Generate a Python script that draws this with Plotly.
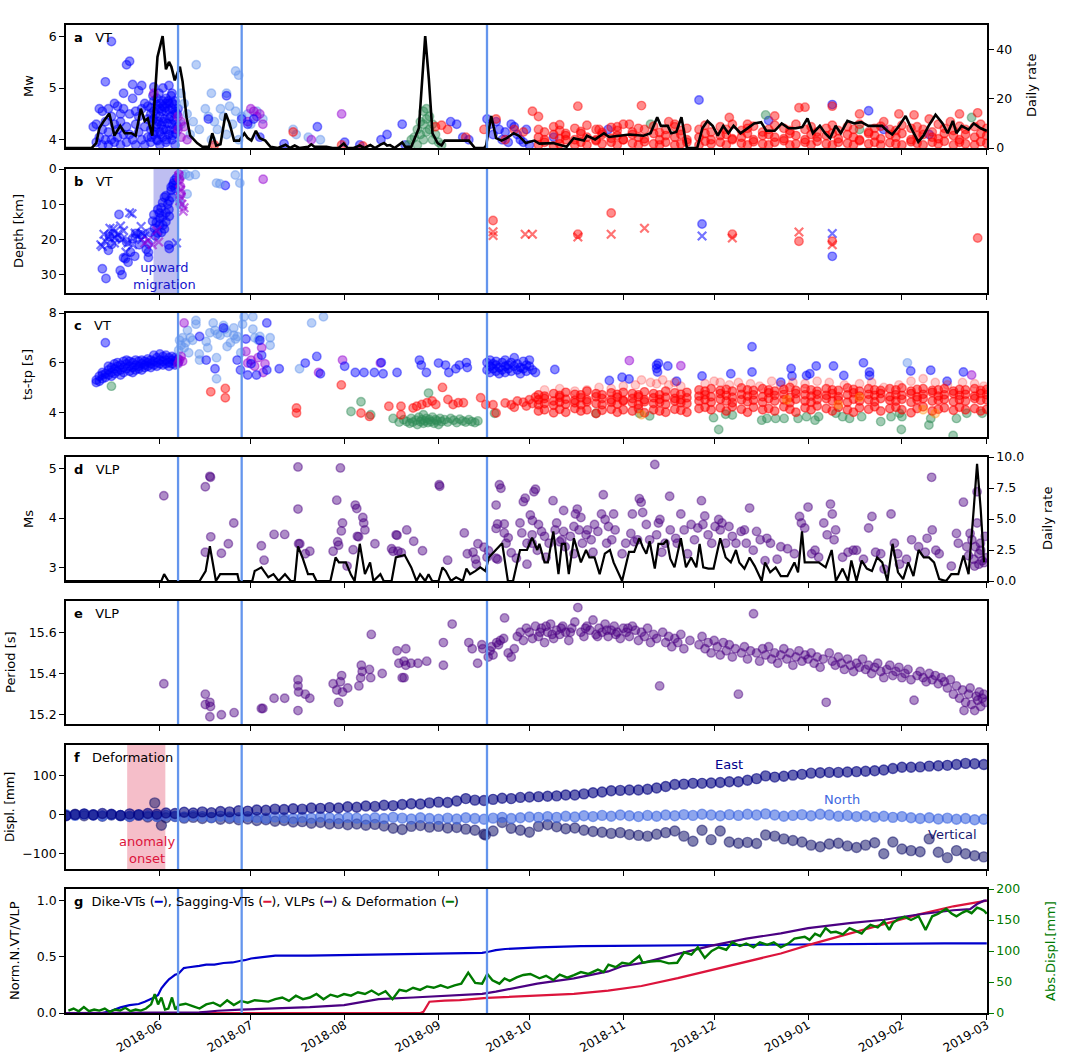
import sys
import pandas as pd
import plotly.graph_objects as go

BASE = pd.Timestamp("2018-05-01")
XMIN, XMAX = "2018-05-01", "2019-03-01 02:00"
EVENT_DAYS = [37, 58, 139]
MONTH_TICKS = ["2018-06-01", "2018-07-01", "2018-08-01", "2018-09-01", "2018-10-01", "2018-11-01",
               "2018-12-01", "2019-01-01", "2019-02-01", "2019-03-01"]
MONTH_LABELS = ["2018-06", "2018-07", "2018-08", "2018-09", "2018-10", "2018-11", "2018-12",
                "2019-01", "2019-02", "2019-03"]

# ---------------- panel a : VT magnitudes (days since 2018-05-01) ----------------
a_blue_day = [9,10,10,11,11,12,12,12,13,13,13,14,14,14,15,15,15,16,16,16,17,17,17,18,18,18,19,19,19,
              20,20,20,21,21,21,22,22,22,23,23,23,24,24,24,25,25,25,26,26,26,27,27,27,28,28,28,
              29,29,29,29,30,30,30,30,31,31,31,31,32,32,32,32,33,33,33,33,34,34,34,34,35,35,35,35,
              36,36,36,36,37,37]
a_blue_mw = [4.25,3.95,4.3,4.6,4.05,3.9,4.2,4.55,5.12,4.0,4.35,4.6,4.15,3.9,5.9,4.45,4.0,4.3,4.7,3.95,
             4.65,4.2,4.05,4.5,3.9,4.35,4.9,4.1,4.6,5.45,4.25,3.95,5.52,4.5,4.1,5.07,4.8,4.0,4.3,4.55,3.9,
             4.95,4.15,4.45,5.05,4.6,4.0,4.7,4.25,3.9,4.4,4.65,4.05,4.5,4.2,3.95,5.02,4.75,4.4,4.1,
             4.6,4.3,4.0,4.8,4.7,4.45,4.15,3.9,5.0,4.75,4.35,4.05,4.8,4.55,4.2,3.95,5.05,4.7,4.4,4.1,
             4.9,4.6,4.3,4.0,4.75,4.5,4.2,3.9,4.6,4.25]
a_blue_fill_day = [28,28.5,29,29.5,30,30.5,31,31.5,32,32.5,33,33.5,34,34.5,35,35.5,36,36.5,
                   28.2,29.2,30.2,31.2,32.2,33.2,34.2,35.2,36.2,28.7,29.7,30.7,31.7,32.7,33.7,34.7,35.7,36.7]
a_blue_fill_mw = [4.62,4.38,4.55,4.25,4.68,4.35,4.6,4.28,4.65,4.4,4.7,4.32,4.58,4.45,4.72,4.38,4.55,4.3,
                  4.05,4.15,3.98,4.1,4.2,4.0,4.18,4.08,4.12,4.85,4.5,4.9,4.55,4.62,4.75,4.85,4.68,4.5]
a_blue2_day = [47,53,58,60,62,64,72,83,92,97,104,106,111,112,127,129,131,133,139,140,141,142,143,144,145,146,
               147,148,149,150,151,152,153,161,179,209,232,253,265,270,285]
a_blue2_mw = [4.4,4.85,4.4,4.3,4.4,4.05,3.92,4.25,3.95,3.9,4.0,4.1,4.3,3.9,4.35,4.3,4.05,4.0,4.4,4.3,4.1,4.35,
              4.2,4.0,4.15,3.95,4.3,4.25,4.1,4.0,3.95,4.2,3.9,4.05,4.2,4.77,4.37,4.68,4.56,4.2,4.1]
a_lblue_day = [38,38,39,40,41,42,43,44,46,47,48,48,49,50,51,52,53,53,54,55,56,56,57,57,58,60,61,63,65,75,76,80,84]
a_lblue_mw = [4.9,4.3,4.7,4.5,4.1,4.35,5.45,4.2,4.6,4.45,4.9,4.0,4.35,4.2,4.6,4.45,4.9,4.1,4.65,4.3,5.33,4.55,
              5.25,4.0,4.45,4.5,4.3,4.55,4.4,4.2,4.1,4.05,4.0]
a_purple_day = [29,37,37,38,38,39,40,60,61,62,63,64,65,81,91]
a_purple_mw = [4.9,4.45,4.2,4.35,4.05,4.25,4.0,4.35,4.6,4.55,4.45,4.5,4.3,4.0,4.5]
a_green_day = [113,114,115,116,116,117,117,118,118,118,119,119,119,120,120,121,121,122,123,124,193,231,262,299]
a_green_mw = [3.9,4.0,4.05,4.2,3.9,4.35,4.1,4.55,4.3,4.0,4.6,4.4,4.15,4.45,4.2,4.3,4.0,4.1,3.95,3.9,4.3,4.48,4.2,4.43]
a_red_early_day = [49,75,91,98,122,124,126,132,138,142,145,148,151,154,156]
a_red_early_mw = [3.9,4.15,3.9,3.88,4.25,4.28,4.2,4.05,4.2,4.4,4.0,4.2,4.15,4.55,4.45]
sag_day = [156,158,161,163,165,168,170,172,175,177,180,182,184,187,189,191,194,196,198,201,203,205,
           209,211,213,216,218,220,223,225,227,230,232,234,237,239,241,244,246,248,251,253,255,258,260,262,
           265,267,269,272,274,276,279,281,283,286,288,290,293,295,297,300,302,304]
a_red_lo = [3.9,3.95,3.88,3.92,4.0,3.9,3.95,3.9,3.98,3.92,3.95,3.9,4.0,3.93,3.9,3.96,3.92,3.9,3.95,3.9,
            3.92,3.95,3.9,3.97,3.92,3.95,3.9,4.0,3.93,3.9,3.96,3.92,3.9,3.95,3.98,3.9,3.92,3.95,3.9,3.97,
            3.92,3.9,3.95,3.93,3.9,3.98,3.92,3.95,3.9,3.94,3.92,3.9,3.96,3.93,3.9,3.95,3.92,3.97,3.9,3.95,
            3.92,3.9,3.96,3.93]
a_red_mid = [4.05,4.0,4.1,4.02,4.08,4.0,4.12,4.05,4.0,4.1,4.03,4.08,4.0,4.1,4.05,4.02,4.12,4.0,4.08,4.05,
             4.1,4.0,4.05,4.12,4.0,4.08,4.1,4.02,4.05,4.12,4.0,4.08,4.1,4.05,4.02,4.12,4.08,4.0,4.1,4.05,
             4.08,4.12,4.02,4.1,4.05,4.0,4.12,4.08,4.02,4.1,4.05,4.12,4.0,4.08,4.1,4.05,4.02,4.12,4.08,4.0,
             4.1,4.05,4.12,4.08]
a_red_hi = [4.2,4.15,4.25,4.18,4.12,4.22,4.16,4.28,4.2,4.14,4.24,4.18,4.3,4.15,4.22,4.2,4.26,4.14,4.2,4.25,
            4.18,4.22,4.2,4.28,4.15,4.25,4.2,4.3,4.18,4.22,4.26,4.15,4.2,4.28,4.22,4.18,4.3,4.2,4.25,4.15,
            4.22,4.28,4.18,4.25,4.2,4.3,4.15,4.22,4.26,4.2,4.18,4.28,4.22,4.25,4.2,4.15,4.3,4.22,4.18,4.26,
            4.2,4.25,4.3,4.22]
a_red_top_day = [163,169,176,182,186,190,199,201,219,225,234,242,244,253,262,270,275,280,285,292,295,301]
a_red_top_mw = [4.29,4.65,4.2,4.25,4.3,4.66,4.35,4.3,4.43,4.3,4.46,4.62,4.63,4.65,4.5,4.35,4.5,4.48,4.4,4.35,4.5,4.52]
rate_vt = [(0,0),(8.5,0),(10,2),(11,8),(12.5,11),(14.3,14),(16,5),(17.9,9),(19.4,6),(21.6,6),(23,5),(24.7,16),
           (26,11),(27,12),(28.5,5),(30.2,37),(31.9,45.5),(33,32),(34,35),(34.8,33),(35.9,27.5),(37.6,33),
           (38.5,27),(39.8,12.5),(41,5),(43.3,2),(45,0.5),(47.2,0.5),(48.3,6),(49.6,1),(51,1.5),(52.7,14),
           (54,10),(55.5,3),(57.2,3),(58.9,6),(60,4),(61.2,3),(62.7,7),(64,4),(65.8,3),(67.5,0.5),(70,0),
           (72.5,1.3),(74,0),(75.5,1),(77,0),(80,0.5),(81,1.5),(82,0.5),(86,0.5),(88,0),(90,0),(91.7,1.8),
           (93,0),(95,0),(97,1),(98.5,0),(100.5,1.2),(102,0),(104,1.5),(105,2),(106,1),(107,1.2),(108.5,0),
           (111,2.3),(112,0.5),(114,0.5),(116.5,8),(117.8,31),(118.6,45.5),(119.8,28),(121,6),(122.7,2),
           (124,1),(125,3),(128,3),(131,3),(133,3),(135,0),(138,0),(138.7,1),(140.4,13),(142,4),(143.8,3),
           (145.5,4),(147.8,6),(149.5,5),(151.8,2),(154.6,3),(156.3,1.8),(160.8,2),(165.3,0.5),(167.6,4),
           (171,3),(172,5),(174.7,3.5),(177.6,6),(179.3,4.5),(182.7,5),(186.1,5.5),(190.7,5),(193,6),
           (195.2,12.5),(196.4,9),(198.7,9),(199.8,6),(201.5,6.5),(203.2,12.5),(205,0),(208.4,0),(210.1,8),
           (211.8,11),(213.5,9),(215.2,5),(217,9),(218.7,6),(220.4,9),(222.7,6),(225,8),(227.2,10),
           (229.5,10.5),(231.2,7),(234,7),(236.3,10),(238.6,8),(240.9,8),(243.1,8.5),(244.8,12),(246.6,6),
           (248.9,9),(250.6,6),(252.3,4),(254.1,9),(255.8,6),(258,11),(260.3,10),(262.6,10.5),(264.9,9),
           (267.1,9),(269.4,9),(271.1,7),(272.8,5.5),(275.1,9),(277.2,13),(279.1,8),(281.4,2.5),(283.1,5),
           (284.8,9),(287.1,13.5),(289.4,10),(291.1,6),(292.8,11),(294,6),(295.7,9),(298,7.5),(299.7,10),
           (302,8),(304,7)]

# ---------------- panel b : depths ----------------
b_blue_o_day = [12,13.2,14,15,17.9,18.5,19,19.6,20.5,21.3,22.7,24.2,27.2,27.2,27.2,26.5,14.4,15.5,17.7,20,
                22,23,24.8,27.8,17.5,28.6,29.2,29.8,30.3,30.9,31.4,32,32.5,33,33.6,34.1,34.7,34.7,35.3,35.5,
                35.8,34.1,33,31.9,30.9,30.3,33.9,34.1,29,31,32,33,34,35,36,36.5,29.5,31.5,32.5,52.6,210,253]
b_blue_o_dep = [28.3,31.1,23.1,21.4,28.8,30,25.2,25.5,26.5,23.6,24.8,21.5,21.2,23.6,25.1,22.8,19.2,18.3,19.5,20.7,
                19.7,18.3,18.7,18,12.9,14.8,16.8,15.2,11.5,12.5,11,13.5,8,7.6,10,9,6.1,5.1,4.6,4,
                3.2,13.4,12.4,9.5,15.8,18.2,21.6,22.6,13,14,16,15,11.5,8,5.5,2.5,19,18,17,4.7,15.6,24.8]
b_blue_x_day = [11.5,12.5,14.5,15.6,17,18,19,21,21.8,22.8,24.8,25.3,14,16.3,23.5,25,19.8,18.5,13,16,
                20.5,22,12,26,36.5,210,253]
b_blue_x_dep = [21.5,18.5,16.8,17,18.5,16.2,17.5,12.4,12.7,18.2,16.3,18.3,19.2,19.6,19.2,20,23.6,20,20.5,21,
                21,21.5,22,19,21,19,18.3]
b_lblue_day = [37.2,38.4,39.5,40.7,42.7,40,49.7,50.8,55.9,57.4,37.6]
b_lblue_dep = [8.5,1.7,1.5,2,1.6,7.1,4,4.2,1.7,4,10]
b_purple_x_day = [37.2,37.5,37.8,38,38.3,38.7,39,37.6,30.6,30,27,28.5,26]
b_purple_x_dep = [2,4,6,8,10,12,11,9,20.7,17.5,20.3,21.5,21]
b_purple_o_day = [37.3,37.5,65.1,37.8,38]
b_purple_o_dep = [1.5,3,2.9,5,7]
b_red_o_day = [141,169,180,220,242,253,301]
b_red_o_dep = [14.6,18.5,12.5,18.5,20.5,20.5,19.6]
b_red_x_day = [141,141,151.6,154,169,180,191,220,242,253]
b_red_x_dep = [17.8,18.9,18.5,18.5,19.3,18.5,16.8,19.6,17.9,21.5]

# ---------------- panel c : ts-tp ----------------
c_blue_day = [10,10,11,11,12,12,12,13,13,13,14,14,14,15,15,15,16,16,16,17,17,17,18,18,18,19,19,19,
              20,20,20,21,21,21,22,22,22,23,23,23,24,24,24,25,25,25,26,26,26,27,27,27,28,28,28,
              29,29,29,30,30,30,31,31,31,32,32,32,33,33,33,34,34,34,35,35,35,36,36,36,37,37]
c_blue_val = [5.2,5.3,5.45,5.25,5.5,5.35,5.6,6.8,5.55,5.4,5.7,5.5,5.85,5.6,5.8,5.45,5.75,5.95,5.55,
              5.65,5.85,6.0,5.7,5.9,5.5,5.8,6.05,5.6,5.75,5.95,6.1,5.85,5.65,6.05,5.8,6.0,5.6,5.9,6.1,5.7,
              5.85,6.05,5.75,5.95,5.7,6.1,5.9,6.05,5.8,6.0,5.85,6.15,5.95,6.1,5.8,6.05,5.9,6.3,6.0,6.2,5.85,
              5.95,6.1,6.35,6.05,5.9,6.25,6.1,5.95,6.3,6.0,6.2,5.85,6.1,5.95,6.25,6.05,6.2,5.9,6.0,6.15]
c_blue2_day = [56.5,57.6,59.4,61.1,64,64.6,66.3,60,62.9,66.3,44.1,46.3,49.2,52,70.4,79,82.8,84,92,95.5,
               98.4,101.8,104.1,104.7,109.3,116.7,117.3,119,123,125.3,126.4,128.7,129.9,132.2,132.5]
c_blue2_val = [6.1,5.7,6.95,5.95,6.9,6.3,7.6,5.5,5.5,5.7,7.05,6.1,5.75,7.4,5.75,5.98,6.25,5.55,5.85,5.6,
               5.6,5.6,6.0,5.55,5.6,6.1,5.9,5.6,5.98,5.9,5.6,5.75,5.9,6.0,5.8]
c_blue3_day = [139,139,140,140,140,141,141,142,142,142,143,143,144,144,145,145,145,146,146,147,147,148,148,
               149,149,150,150,151,151,152,152,153,153,154,155]
c_blue3_val = [5.7,6.0,5.85,5.6,6.1,5.75,5.95,5.65,5.9,6.05,5.8,5.55,6.0,5.7,5.85,6.1,5.6,5.9,5.75,6.0,
               5.65,5.85,6.2,5.7,5.95,5.8,5.55,6.05,5.75,5.9,5.65,5.85,6.1,5.7,5.6]
c_blue4_day = [161.4,179.4,183.6,185.9,195,195,195.3,195.6,198.7,201.6,210,219.5,226.5,226.5,236,239.4,239.7,
               244.5,245.6,247.7,253.4,256.8,263.3,265.3,265.3,278.9,285.5,290.9,296.3]
c_blue4_val = [5.72,5.28,5.41,5.34,5.9,5.76,5.62,5.97,5.86,5.25,5.46,5.55,6.64,5.62,5.21,5.76,5.46,5.48,5.55,
               5.86,5.86,5.48,5.99,5.62,5.48,5.66,5.69,5.25,5.62]
c_lblue_day = [37.2,37.5,38,38.5,39,39.5,40.1,40.5,41,41.8,42.9,42.9,44.1,46.3,46.8,48.6,49.2,49.7,49.7,50.9,
               52,53.2,53.2,54.3,55.4,55.4,56.6,57.7,58.3,58.8,61.7,61.7,62.3,63.5,64,67.4,67.4,77.1,81.1,85,
               47.5,52.5,56,50,44,277.8]
c_lblue_val = [6.5,6.9,6.7,7.0,6.6,6.8,7.3,6.4,7.0,6.9,7.55,7.7,6.1,6.85,6.6,7.6,7.3,6.2,5.35,7.1,
               7.5,7.2,6.65,6.8,7.4,7.1,7.05,6.4,7.55,7.85,7.85,7.35,7.0,6.9,7.05,6.7,7.0,5.75,7.6,7.85,
               7.2,7.35,6.95,7.15,6.35,5.99]
c_purple_day = [39,37.5,38,38.5,37,59.4,60,61.1,62.3,63.4,64.6,65.1,65.7,91.3,103.8,83.4,186,203,299]
c_purple_val = [7.6,6.1,6.25,6.05,5.95,6.45,5.98,6.1,5.85,6.2,6.6,5.6,5.95,6.1,5.98,5.6,6.08,5.87,5.5]
c_red_early_day = [47.8,52.6,52.6,76.1,76.1,90.9,97.4,100.2,106.6,110.6,110.6,114.6,115.8,117.5,119.2,120.9,
                   122.1,124.3,126.1,127.8,129.5,131.2,136.9,138.6,142,141,145,147,149,151,153,155,148,152,154]
c_red_early_val = [4.82,4.96,4.58,4.17,3.97,5.1,3.97,3.83,4.24,4.24,3.9,4.17,4.24,4.31,4.38,4.45,4.31,5.0,
                   4.51,4.31,4.38,4.38,4.58,4.31,3.97,4.3,4.37,4.3,4.45,4.4,4.5,4.6,4.2,4.25,4.35]
c_red_v1 = [4.05,4.1,3.98,4.12,4.0,4.15,4.05,4.1,3.95,4.08,4.12,4.0,4.1,4.05,4.15,3.98,4.1,4.05,4.0,4.12,
            4.08,4.0,4.15,4.2,4.1,4.18,4.05,4.22,4.12,4.0,4.2,4.1,4.15,4.05,4.22,4.12,4.0,4.18,4.1,4.25,
            4.15,4.05,4.2,4.1,4.0,4.18,4.12,4.22,4.05,4.15,4.2,4.1,3.98,4.15,4.22,4.05,4.12,4.18,4.08,4.2,
            4.1,4.15,4.05,4.12]
c_red_v2 = [4.3,4.35,4.28,4.4,4.32,4.38,4.3,4.42,4.35,4.3,4.4,4.33,4.45,4.38,4.3,4.42,4.35,4.4,4.32,4.45,
            4.38,4.35,4.45,4.5,4.4,4.52,4.45,4.38,4.5,4.42,4.48,4.4,4.55,4.45,4.5,4.38,4.52,4.45,4.4,4.5,
            4.55,4.45,4.48,4.4,4.52,4.45,4.5,4.42,4.55,4.48,4.45,4.52,4.4,4.5,4.55,4.45,4.48,4.52,4.42,4.5,
            4.45,4.55,4.48,4.5]
c_red_v3 = [4.5,4.55,4.45,4.6,4.52,4.48,4.58,4.5,4.62,4.55,4.5,4.6,4.48,4.55,4.62,4.5,4.58,4.52,4.6,4.55,
            4.5,4.58,4.65,4.7,4.62,4.75,4.68,4.6,4.72,4.65,4.7,4.62,4.78,4.68,4.72,4.6,4.75,4.7,4.65,4.72,
            4.68,4.75,4.62,4.7,4.78,4.65,4.72,4.68,4.75,4.62,4.7,4.68,4.75,4.62,4.72,4.8,4.65,4.7,4.75,4.68,
            4.72,4.65,4.75,4.7]
c_red_v4 = [4.7,4.65,4.75,4.68,4.8,4.72,4.7,4.85,4.75,4.7,4.78,4.72,4.8,4.75,4.7,4.82,4.75,4.7,4.85,4.78,
            4.72,4.8,4.9,4.85,4.95,4.88,4.92,4.85,4.98,4.9,4.88,4.95,4.9,4.85,4.92,5.0,4.88,4.95,4.9,4.85,
            4.95,4.9,4.88,4.98,4.92,4.85,4.95,4.9,4.88,4.95,4.9,4.98,4.85,4.92,4.95,4.88,4.9,4.95,4.85,4.92,
            4.9,4.95,4.88,4.92]
c_pink_day = [158,163,168,172,176,180,184,188,190,193,195,197,199,201,203,211,214,216,219,222,
              226,229,233,236,240,244,248,252,257,262,266,270,275,279,283,287,291,296,300,303]
c_pink_val = [4.9,4.95,4.85,4.9,5.0,4.95,5.05,5.1,5.3,5.2,5.15,5.3,5.1,5.2,5.05,5.15,5.25,5.2,5.1,5.2,
              5.15,5.05,5.25,5.1,5.2,5.15,5.25,5.2,5.1,5.15,5.2,5.0,5.1,5.25,5.35,5.2,5.1,5.2,5.15,5.05]
c_green_day = [15,94.1,97.4,100.6,119.7,141.5,108,110,111.5,112.5,113.5,114,114.5,115.5,116,116.5,117,117.5,
               118,118,118.5,119,119.5,120,120.5,121,121.5,122,122.5,123,123.5,124,125,126,127,128,129,130,
               131,132,133,134,135,136,175,189.3,192.7,213.8,215.5,217.8,220,229.7,231.4,234.3,237.1,241.7,
               244.5,247.3,248.5,254.2,256.4,258.7,262.7,269,272.4,275.2,275.8,276,284.9,285.5,292.9,294,
               297.4,302.5]
c_green_val = [5.05,4.03,4.42,3.9,4.77,3.96,3.75,3.6,3.7,3.62,3.55,3.75,3.6,3.68,3.5,3.8,3.62,3.7,3.55,3.9,
               3.65,3.75,3.58,3.7,3.62,3.8,3.55,3.7,3.65,3.5,3.75,3.62,3.7,3.6,3.75,3.68,3.58,3.72,3.65,3.6,
               3.7,3.62,3.58,3.65,3.96,3.96,3.85,3.78,3.3,3.92,3.89,3.68,3.75,3.75,3.75,3.75,3.82,3.68,3.82,
               3.96,3.82,3.75,3.82,3.62,3.82,3.96,3.3,3.82,3.48,3.75,3.06,3.75,3.96,3.96]
c_orange_day = [190, 238, 255, 283, 287, 262]
c_orange_val = [3.9, 4.5, 4.3, 4.1, 3.95, 4.6]

# ---------------- panel d : VLP Ms and daily rate ----------------
vlp_ms = [(32.3,4.45),(46,3.31),(46,4.63),(47.5,4.84),(47.7,4.82),(47.8,3.62),(51.3,3.29),(53.6,3.48),
          (55.4,3.9),(64.5,3.44),(65.4,3.15),(68.7,3.67),(72.2,3.67),(76.6,5.03),(76.6,4.18),(76.8,3.48),
          (77.2,3.48),(79,3.28),(80.5,3.33),(88.2,3.33),(89.4,4.36),(89.7,3.52),(90,3.45),(90.6,5.01),
          (90.9,3.74),(91.3,3.9),(92.8,3.03),(94.8,3.36),(95.5,4.26),(96,4.19),(96.2,3.63),(96.6,3.62),
          (98,4.01),(98.3,3.9),(98.7,3.76),(102,3.48),(107.5,3.38),(108,3.33),(109,3.66),(109.3,3.65),
          (109.6,3.33),(110.7,3.3),(112.5,3.76),(114.8,3.53),(117.7,3.34),(123.2,4.67),(123.4,4.64),
          (126,3.15),(131.5,3.7),(132.5,3.28),(134.4,3.31),(135.2,3.17),(135.5,3.07),(136,3.48),(138,3.41),
          (139.5,3.34),(139,3.21),(142,3.19),(142,4.26),(142.5,3.17),(143.1,4.67),(143.6,4.6),(142,3.79),
          (142.5,3.88),(144.7,3.88),(144.7,3.7),(145.3,3.49),(148.7,3.19),(149.9,3.9),(151,4.33),(151.6,4.4),
          (152.2,3.49),(152.2,3.07),(153.3,4.06),(153.9,3.66),(154.5,4.53),(155,4.58),(153.9,3.49),(155.6,3.35),
          (146,3.6),(147,3.3),(150.5,3.7),(154,3.95),
          (156,3.87),(157,3.73),(158,3.63),(158.5,3.21),(159.5,3.49),(160.8,4.35),(161.5,3.76),(162,3.9),
          (163,3.52),(163.7,3.56),(164.3,4.15),(164.3,3.73),(164.8,3.42),(166.5,3.63),(167.7,3.83),(167.7,3.28),
          (168.2,4.08),(168.8,4.18),(169.4,3.76),(170,4.01),(170.5,3.49),(171.7,3.66),(172.2,3.76),(173.4,3.56),
          (174,3.31),(174.5,3.87),(175.6,3.73),(177.4,4.47),(176.8,4.08),(178,3.97),(178.5,3.49),(179.1,3.83),
          (180.2,3.56),(180.8,4.08),(181.3,3.76),(183.6,3.28),(184.8,3.49),(186.5,3.69),(187,4.08),(187.6,3.52),
          (188.7,3.56),(189.3,4.39),(189.9,4.32),(190.4,4.11),(191.6,3.87),(192.7,3.56),(194.4,5.08),(195,3.66),
          (195.6,3.9),(196.1,3.97),(196.7,3.31),(197.8,3.49),(199.3,4.44),(199.5,3.76),(201.3,3.59),(201.8,3.49),
          (203,4.08),(204.1,3.76),(205.2,3.28),(206.4,3.87),(207.5,3.56),(208.6,3.8),(209.8,4.35),(210.3,3.87),
          (210.9,4.04),(212,3.66),(213.2,3.49),(214.3,3.83),(215.5,3.97),(216,3.76),(216.6,3.9),(217.8,3.49),
          (218.9,3.83),(220,3.63),(221.2,3.49),(222.9,3.73),(224,3.76),(224.6,3.49),(225.7,4.2),(226.9,3.35),
          (228,3.73),(229.2,3.56),(230.8,3.14),(231.4,3.59),(232.6,3.49),(234.8,3.17),(236,3.42),(238.2,3.38),
          (240.5,3.28),(242.2,4.03),(242.8,3.9),(243.9,3.8),(245,4.22),(246.2,3.28),(247.3,3.35),(248.5,3.21),
          (250.2,3.9),(251.3,3.66),(252.4,4.28),(253,4.08),(253.6,3.56),(254.1,3.76),(256.4,3.21),(258.2,3.31),
          (259.9,3.35),(261,3.35),(263.3,3.17),(265,3.8),(266.1,4.03),(267.3,3.31),(269,3.28),(270.1,2.97),
          (272.4,4.08),(273.5,3.49),(274.6,3.28),(275.2,3.07),(277.5,3.17),(279.2,3.56),(281.5,3.42),(283.7,3.31),
          (284.3,3.59),(285.8,4.82),(286,3.76),(287.2,3.35),(288.3,3.28),(292.3,3.03),(294,3.69),(294.6,3.49),
          (296.3,4.32),(297.4,3.42),(298,3.24),(298.5,3.69),(299.1,3.56),(299.7,3.17),(300.2,3.42),(300.8,4.53),
          (300.8,3.9),(301.4,3.28),(301.9,3.49),(302.5,3.14),(303.1,3.1),(300,3.03),(301.4,3.07),(302,3.35),
          (303.5,3.63),(303.8,3.2)]
rate_vlp = [(0,0),(31.5,0),(32.4,0.55),(33.8,0),(44.1,0),(46.1,0.8),(47.5,2.8),(49.5,0),(50.9,0.55),(56.6,0.55),
            (57.1,0),(61.5,0),(62.3,0.8),(64.5,1.1),(66.8,0.3),(68.5,0.55),(70.2,0),(72.3,0.55),(74.2,0),(75.5,0),
            (76.6,2.8),(78.2,1.8),(79.9,0.55),(81.6,0.55),(82.7,0),(87.3,0),(89,1.9),(90.1,1.5),(92.4,1.5),
            (94.1,0.5),(95.3,0),(97,3.0),(98.7,0.55),(100.4,1.5),(101.5,0),(103.8,0.55),(104.9,0),(107.5,0),
            (108.9,1.9),(111.8,2.1),(114,1.1),(115.7,0),(116.9,0.55),(118.6,0),(119.7,0.55),(120.9,0),(123,0),
            (124.3,1.1),(125.4,0.8),(127.1,0),(128.8,0.3),(131,0),(132.2,1.0),(133.4,0.55),(135.1,0.8),
            (136.8,1.1),(138.5,0.8),(139.6,1.9),(141.9,2.5),(144,3.05),(145.9,0),(147.6,0),(149.9,2.5),
            (152.2,2.5),(153.9,3.5),(155.6,2.5),(156.3,3.0),(158,1.5),(159.1,1.5),(160.9,4.0),(162.6,0.55),
            (163.7,3.0),(164.8,3.0),(166,0.55),(167.7,3.45),(170,1.5),(171.7,2.5),(172.8,1.9),(174.5,1.9),
            (176.2,0.55),(177.9,2.2),(179.6,2.5),(180.8,1.5),(183.6,0),(185.9,2.35),(187.6,2.35),(189.3,3.45),
            (190.4,2.75),(191.6,2.2),(192.7,3.2),(194.4,1.0),(195.6,3.0),(197.3,3.0),(198.4,3.3),(199.5,1.8),
            (200.9,1.1),(203,3.45),(204.7,1.1),(206.4,1.9),(208.1,1.1),(209.2,3.0),(210.4,1.1),(212.1,1.0),
            (213.8,1.0),(216,3.45),(217.8,1.9),(219.5,1.5),(221.2,2.5),(222.3,1.5),(224,1.0),(225.7,1.9),
            (227.4,1.2),(229.7,0),(230.8,1.5),(232.5,0.7),(234.3,1.1),(236,0.4),(238.2,0.4),(240.5,1.5),
            (241.7,0.7),(243,4.0),(243.9,1.5),(246.2,1.5),(248.5,1.5),(250.8,1.1),(252.8,2.5),(254.2,0),
            (256.4,1.0),(258.2,0),(259.3,1.65),(261,0),(262.7,1.65),(264.4,1.0),(266.1,0.8),(267.8,1.9),
            (269.5,1.5),(271.2,0),(272.9,3.0),(274.7,0.7),(276.4,0.15),(278.1,1.5),(279.8,0.4),(281.5,2.5),
            (283.2,1.9),(284.9,1.9),(286.6,1.5),(288.3,0.15),(290.6,0),(292.3,0.55),(294.6,0.55),(296.3,2.05),
            (298,0.55),(299.7,5.8),(300.8,9.45),(302,5.8),(303.1,1.5)]

# ---------------- panel e : VLP period ----------------
vlp_period = [(32.3,15.35),(46,15.30),(46,15.25),(47.5,15.26),(47.7,15.24),(47.5,15.19),(51.3,15.20),(55.5,15.21),
              (64.5,15.23),(65,15.23),(68.7,15.28),(72.2,15.28),(76.6,15.37),(76.6,15.34),(76.8,15.31),(76.6,15.22),
              (79,15.30),(80.5,15.28),(88.2,15.35),(89.4,15.32),(90,15.26),(90.6,15.36),(91,15.39),(91.3,15.31),
              (93,15.33),(96.7,15.34),(97.3,15.38),(97.5,15.44),(97.8,15.41),(100.2,15.42),(100.6,15.38),(100.8,15.59),
              (104.4,15.40),(109.3,15.51),(109.9,15.45),(111.6,15.46),(112.2,15.52),(112.2,15.44),(111.6,15.38),
              (111,15.38),(113.9,15.45),(116.2,15.45),(119.1,15.46),(124.6,15.44),(124.6,15.55),(127.5,15.64),
              (133,15.55),(134.1,15.52),(135.9,15.45),(137.3,15.54),(137.6,15.52),(139.4,15.48),(140,15.51),
              (142.2,15.55),(142.8,15.54),(143.4,15.56),(144.5,15.57),(144.8,15.67),(141,15.49),(140.5,15.53),
              (146,15.5),(147,15.48),(148,15.52),(149,15.58),(150,15.6),(151,15.56),(152,15.62),(153,15.6),
              (154,15.57),(155,15.63),(156,15.58),(157,15.62),(158,15.55),(159,15.6),(160,15.64),(161,15.57),
              (162,15.61),(163,15.59),(164,15.63),(165,15.6),(166,15.56),(167,15.62),(168,15.65),(169,15.72),
              (170,15.6),(171,15.58),(172,15.63),(173,15.61),(174,15.66),(175,15.59),(176,15.62),(177,15.6),
              (178,15.64),(179,15.58),(180,15.61),(181,15.63),(182,15.6),(183,15.57),(184,15.62),(185,15.6),
              (186,15.58),(187,15.63),(188,15.61),(189,15.56),(190,15.6),(191,15.58),(192,15.62),(193,15.55),
              (194,15.59),(195,15.57),(196,15.34),(197,15.6),(198,15.55),(199,15.58),(200,15.53),(201,15.57),
              (202,15.55),(203,15.59),(204,15.52),(206,15.56),(209,15.54),(210,15.58),(211,15.52),(212,15.55),
              (213,15.5),(214,15.56),(215,15.53),(216,15.49),(217,15.55),(218,15.51),(219,15.54),(220,15.48),
              (221,15.52),(222,15.3),(223,15.5),(224,15.53),(225,15.47),(226,15.51),(227,15.69),(228,15.5),
              (229,15.46),(230,15.52),(231,15.49),(232,15.53),(233,15.47),(234,15.5),(235,15.45),(236,15.49),
              (237,15.52),(238,15.47),(239,15.5),(240,15.44),(241,15.48),(242,15.51),(243,15.46),(244,15.49),
              (245,15.47),(246,15.5),(247,15.45),(248,15.48),(249,15.43),(250,15.47),(251,15.26),(252,15.5),
              (253,15.46),(254,15.44),(255,15.48),(256,15.45),(257,15.42),(258,15.47),(259,15.44),(260,15.41),
              (261,15.45),(262,15.43),(263,15.47),(264,15.42),(265,15.44),(266,15.4),(267,15.43),(268,15.45),
              (269,15.41),(270,15.38),(271,15.42),(272,15.44),(273,15.39),(274,15.41),(275,15.43),(276,15.38),
              (277,15.4),(278,15.42),(279,15.37),(280,15.27),(281,15.39),(282,15.41),(283,15.38),(284,15.36),
              (285,15.4),(286,15.37),(287,15.39),(288,15.35),(289,15.38),(290,15.36),(291,15.33),(292,15.37),
              (293,15.3),(294,15.34),(295,15.28),(296,15.32),(297,15.26),(298,15.3),(299,15.25),(300,15.22),
              (300.5,15.29),(301,15.27),(301.5,15.31),(302,15.24),(302.5,15.28),(303,15.3),(303.5,15.26),
              (298.5,15.33),(296.5,15.22),(156.5,15.6),(158.5,15.63),(160.5,15.59),(163.5,15.62),(166.5,15.6),
              (171.5,15.62),(175.5,15.58),(178.5,15.61),(181.5,15.59),(185.5,15.62)]

# ---------------- panel f : deformation (mm) ----------------
f_day = [0,3,6,9,12,15,18,21,24,27,30,33,36,39,42,45,48,51,54,57,60,63,66,69,72,75,78,81,84,87,90,93,96,99,
         102,105,108,111,114,117,120,123,126,129,132,135,138,141,144,147,150,153,156,159,162,165,168,171,174,
         177,180,183,186,189,192,195,198,201,204,207,210,213,216,219,222,225,228,231,234,237,240,243,246,249,
         252,255,258,261,264,267,270,273,276,279,282,285,288,291,294,297,300,303]
f_east = [-3,0,2,-1,3,1,-2,2,0,3,1,4,3,6,4,7,5,8,7,10,9,12,11,14,13,15,14,17,16,18,17,20,19,22,21,24,23,26,28,27,
          30,32,31,35,41,37,36,39,42,41,44,45,46,47,48,50,50,53,56,58,61,62,63,63,65,68,72,77,78,80,
          80,81,82,84,84,88,92,99,96,98,101,103,106,107,108,108,109,110,111,112,114,118,121,121,122,124,125,126,
          128,131,130,128]
f_north = [0,-2,1,-1,-3,0,-2,-4,-1,-3,-5,-2,-4,-6,-3,-5,-7,-4,-6,-8,-5,-7,-9,-6,-8,-10,-7,-9,-6,-8,
           -10,-7,-9,-11,-8,-10,-7,-9,-11,-8,-10,-12,-9,-11,-8,-10,-12,-9,-7,-10,-8,-6,-7,-5,-7,-4,-6,-3,-5,-2,
           -4,-1,-3,-5,-2,-4,-1,-3,0,-2,1,-1,-3,0,-2,1,-1,2,-1,-4,-2,0,-3,1,-1,-4,-2,-5,-3,-6,
           -4,-7,-5,-8,-10,-8,-11,-9,-12,-10,-13,-12]
f_vert = [-2,1,-3,0,-4,-1,-3,-5,-2,-6,-4,-8,-5,-9,-7,-10,-8,-12,-10,-13,-11,-15,-13,-17,-15,-19,-18,-22,-20,-24,
          -23,-26,-24,-27,-25,-29,-35,-38,-30,-28,-32,-30,-34,-33,-37,-40,-50,-42,-20,-35,-40,-45,-30,-26,-31,-36,
          -34,-40,-43,-45,-48,-46,-51,-53,-55,-50,-46,-42,-55,-68,-40,-64,-42,-70,-73,-71,-74,-52,-55,-62,
          -66,-70,-78,-82,-75,-73,-80,-84,-78,-72,-100,-70,-88,-92,-95,-62,-96,-110,-92,-100,-105,-108]
f_vert_out_day = [29.3, 31.5, 138.5]
f_vert_out_val = [30, -27, -52]

# ---------------- panel g : normalised cumulative counts and displacement ----------------
g_dike_day = [0,12,15,18,21,24,26,28,29.3,30.4,31.5,32.7,34,35,36,37.1,38,38.9,40,41.8,44,46.3,49,52,55,57.7,
              59,61.1,63,64.5,67,69.1,80,100,120,137.4,139.5,141.9,145,148.8,156,170,190,210,230,250,270,290,304]
g_dike = [0,0,0.02,0.05,0.07,0.08,0.1,0.12,0.14,0.16,0.22,0.26,0.3,0.32,0.34,0.35,0.38,0.4,0.405,0.41,
          0.42,0.43,0.43,0.445,0.45,0.465,0.47,0.485,0.49,0.5,0.5,0.51,0.51,0.52,0.525,0.535,0.545,0.56,0.57,
          0.575,0.585,0.595,0.6,0.605,0.61,0.615,0.615,0.62,0.62]
g_sag_day = [0,117,118,119,120,125,130,139,150,156,167.7,179,190,202,213,225,236,247,258,270,282,293,304]
g_sag = [0,0,0.01,0.06,0.1,0.11,0.115,0.135,0.148,0.15,0.17,0.2,0.24,0.31,0.38,0.46,0.53,0.62,0.7,0.79,0.88,0.95,1.0]
g_vlp_day = [0,31,33,44,46.3,50,57.7,69.1,80.5,91.8,103.2,114.6,126,137.4,141.9,148,155.6,167.7,179,183.6,190.4,
             201.8,213.2,224.6,236,245,258.7,270.1,281.5,292.9,298.5,300.8,303.1,304]
g_vlp = [0,0,0.003,0.005,0.01,0.02,0.03,0.04,0.052,0.07,0.123,0.138,0.154,0.17,0.19,0.22,0.262,0.308,0.37,0.416,
         0.446,0.524,0.6,0.662,0.709,0.755,0.8,0.83,0.877,0.915,0.924,0.97,1.0,1.0]
g_def_day = [0.8,2.5,4.2,5.9,7.6,9.3,11,12.8,14.5,16.2,17.9,19.6,21.3,23,24.7,26.4,28.1,29.3,30.4,31.5,32.7,33.8,
             35,36.1,37.2,39.5,41.8,44.1,46.3,48.6,50.9,53.2,55.4,57.7,60,62.3,64.5,66.8,69.1,71.4,73.6,75.9,78.2,
             80.5,82.7,85,87.3,89.6,91.8,94.1,96.4,98.7,100.9,103.2,105.5,107.8,110.1,112.3,114.6,116.9,119.2,
             121.4,123.7,126,128.3,130.5,132.8,135.1,137.4,139.1,140.8,143.1,144.8,146.5,148.8,151,153.3,155.6,
             156.3,158.5,160.9,163,165.5,167.7,170,172.5,175.6,177.5,179.1,181.5,183.6,186,189.3,190.4,193,196.1,
             199,201.8,204.1,206.5,208.6,210.9,213.2,215.5,218,220,222.5,224.6,227,229.1,231.5,233.7,236,238.5,
             240.5,243.9,245.5,247.3,249,250.8,252.5,254.2,256.5,258.7,260.5,262.7,264,265.6,268,270.1,271.8,273,
             274.7,276.9,279,281.5,283.8,286,288,290.6,292.5,294,296,297.4,299,300.8,302,303.1,304]
g_def_mm = [3.9,7.2,2.8,9.5,2.8,5.6,3.9,7.2,1.7,5.6,3.9,8.4,2.8,5.6,3.9,7.2,13.9,30.6,13.9,25,5.6,7.2,25,5.6,
            12.8,15,11.1,7.2,13.9,16.7,11.1,20.6,12.8,19.5,16.7,20.6,19.5,18.4,22.3,25,19.5,27.9,22.3,25,30.6,
            22.3,29.5,26.2,30.6,27.9,33.4,30.6,36.2,29.5,35.1,22.3,37.3,35.1,40.7,37.3,42.9,40.7,44.6,40.7,44.6,
            47.3,65.2,48.5,47.3,62.9,52.9,47.3,55.7,51.8,57.4,61.3,62.9,58.5,
            56,60,53,62,57,61,66,63,70,66,78,74,81,79,92,81,83,84,80,81,98,94,106,89,100,106,102,114,108,112,
            106,114,110,114,106,112,120,123,118,128,124,137,130,131,127,137,133,128,136,142,138,148,134,145,151,
            155,150,156,134,156,160,168,160,156,162,165,161,170,168,165,160]

# ---------------- helpers ----------------
def D(days):
    return BASE + pd.to_timedelta(list(days), unit="D")

def rgba(rgb, a):
    return "rgba(%d,%d,%d,%.3f)" % (rgb[0], rgb[1], rgb[2], a)

BLUE = (0, 0, 255); LBLUE = (100, 149, 237); PURPLE = (148, 0, 211); RED = (255, 0, 0)
GREEN = (46, 139, 87); ORANGE = (255, 140, 0); VLPC = (75, 0, 130)
EASTC = (0, 0, 128); NORTHC = (65, 105, 225); VERTC = (25, 25, 112)

traces = []

def sc(days, vals, rgb, i, alpha=0.45, size=8.5, symbol="circle", ya=None):
    if len(days) != len(vals):
        print("length mismatch", len(days), len(vals), file=sys.stderr)
        n = min(len(days), len(vals)); days, vals = days[:n], vals[:n]
    xa = "x" if i == 1 else "x%d" % i
    yy = ya if ya else ("y" if i == 1 else "y%d" % i)
    if symbol == "x":
        mk = dict(symbol="x-thin", size=size, color=rgba(rgb, alpha),
                  line=dict(color=rgba(rgb, alpha + 0.1), width=2.2))
    else:
        mk = dict(symbol="circle", size=size, color=rgba(rgb, alpha),
                  line=dict(color=rgba(rgb, alpha), width=1.4))
    traces.append(go.Scatter(x=D(days), y=vals, mode="markers", marker=mk, xaxis=xa, yaxis=yy,
                             showlegend=False, hoverinfo="skip"))

def ln(days, vals, color, i, width=2.2, ya=None):
    xa = "x" if i == 1 else "x%d" % i
    yy = ya if ya else ("y" if i == 1 else "y%d" % i)
    traces.append(go.Scatter(x=D(days), y=vals, mode="lines", line=dict(color=color, width=width),
                             xaxis=xa, yaxis=yy, showlegend=False, hoverinfo="skip"))

def unzip(pairs):
    return [p[0] for p in pairs], [p[1] for p in pairs]

# panel a
sc(a_blue_day, a_blue_mw, BLUE, 1)
sc(a_blue_fill_day, a_blue_fill_mw, BLUE, 1)
sc(a_lblue_day, a_lblue_mw, LBLUE, 1)
sc(a_purple_day, a_purple_mw, PURPLE, 1)
sc(a_blue2_day, a_blue2_mw, BLUE, 1)
sc(a_green_day, a_green_mw, GREEN, 1)
sc(a_red_early_day, a_red_early_mw, RED, 1)
sc(sag_day, a_red_lo, RED, 1, alpha=0.5)
sc(sag_day, a_red_mid, RED, 1, alpha=0.5)
sc(sag_day, a_red_hi, RED, 1)
sc(a_red_top_day, a_red_top_mw, RED, 1)
rd, rv = unzip(rate_vt)
ln(rd, rv, "black", 1, width=2.6, ya="y8")

# panel b
sc(b_blue_x_day, b_blue_x_dep, BLUE, 2, symbol="x")
sc(b_blue_o_day, b_blue_o_dep, BLUE, 2)
sc(b_lblue_day, b_lblue_dep, LBLUE, 2)
sc(b_purple_x_day, b_purple_x_dep, PURPLE, 2, symbol="x")
sc(b_purple_o_day, b_purple_o_dep, PURPLE, 2)
sc(b_red_o_day, b_red_o_dep, RED, 2)
sc(b_red_x_day, b_red_x_dep, RED, 2, symbol="x")

# panel c
sc(c_blue_day, c_blue_val, BLUE, 3)
sc(c_lblue_day, c_lblue_val, LBLUE, 3)
sc(c_purple_day, c_purple_val, PURPLE, 3)
sc(c_blue2_day, c_blue2_val, BLUE, 3)
sc(c_blue3_day, c_blue3_val, BLUE, 3)
sc(c_blue4_day, c_blue4_val, BLUE, 3)
sc(c_green_day, c_green_val, GREEN, 3)
sc(c_pink_day, c_pink_val, RED, 3, alpha=0.2)
sc(c_red_early_day, c_red_early_val, RED, 3)
sc(sag_day, c_red_v1, RED, 3, alpha=0.5)
sc(sag_day, c_red_v2, RED, 3, alpha=0.5)
sc(sag_day, c_red_v3, RED, 3, alpha=0.5)
sc(sag_day, c_red_v4, RED, 3, alpha=0.5)
sc(c_orange_day, c_orange_val, ORANGE, 3, alpha=0.35)

# panel d
vd, vm = unzip(vlp_ms)
sc(vd, vm, VLPC, 4, alpha=0.45)
rd, rv = unzip(rate_vlp)
ln(rd, rv, "black", 4, width=2.2, ya="y9")

# panel e
pd_, pv = unzip(vlp_period)
sc(pd_, pv, VLPC, 5, alpha=0.45)

# panel f
sc(f_day, f_vert, VERTC, 6, alpha=0.55, size=10)
sc(f_vert_out_day, f_vert_out_val, VERTC, 6, alpha=0.55, size=10)
sc(f_day, f_north, NORTHC, 6, alpha=0.6, size=10)
sc(f_day, f_east, EASTC, 6, alpha=0.6, size=10)

# panel g
ln(g_dike_day, g_dike, "#0000CD", 7, width=2.2)
ln(g_sag_day, g_sag, "#DC143C", 7, width=2.2)
ln(g_vlp_day, g_vlp, "#4B0082", 7, width=2.2)
ln(g_def_day, g_def_mm, "#007A00", 7, width=2.4, ya="y10")

fig = go.Figure(traces)

# ---------------- layout ----------------
W, H = 1080, 1060
ML, MR, MT, MB = 66, 93, 25, 47
PW = W - ML - MR
PH = H - MT - MB
panel_px = [(25, 148), (169, 293), (313, 437), (457, 581), (601, 724), (745, 869), (889, 1013)]
doms = [[(H - MB - b) / PH, (H - MB - t) / PH] for t, b in panel_px]

AX = dict(showline=True, linecolor="black", linewidth=1.6, mirror=True, ticks="outside", ticklen=5,
          tickwidth=1.3, tickcolor="black", showgrid=False, zeroline=False, automargin=False,
          tickfont=dict(size=12.5, color="black"))

ycfg = [
    dict(range=[3.84, 6.22], tickvals=[4, 5, 6]),
    dict(range=[35.2, 0], tickvals=[0, 10, 20, 30]),
    dict(range=[3.0, 8.0], tickvals=[4, 6, 8]),
    dict(range=[2.73, 5.23], tickvals=[3, 4, 5]),
    dict(range=[15.155, 15.752], tickvals=[15.2, 15.4, 15.6], tickformat=".1f"),
    dict(range=[-139, 178], tickvals=[-100, 0, 100]),
    dict(range=[0, 1.104], tickvals=[0, 0.5, 1.0], tickformat=".1f"),
]

lay = dict(width=W, height=H, margin=dict(l=ML, r=MR, t=MT, b=MB, pad=0, autoexpand=False),
           plot_bgcolor="white", paper_bgcolor="white", showlegend=False,
           font=dict(family="DejaVu Sans", size=12, color="black"))
for i in range(1, 8):
    xk = "xaxis" if i == 1 else "xaxis%d" % i
    yk = "yaxis" if i == 1 else "yaxis%d" % i
    lay[xk] = dict(domain=[0, 1], anchor=("y" if i == 1 else "y%d" % i), type="date", range=[XMIN, XMAX],
                   tickmode="array", tickvals=MONTH_TICKS, ticktext=MONTH_LABELS, showticklabels=(i == 7),
                   tickangle=-30, **AX)
    lay[yk] = dict(domain=doms[i - 1], anchor=("x" if i == 1 else "x%d" % i), **AX, **ycfg[i - 1])
lay["xaxis7"]["ticklabelstandoff"] = -6
lay["xaxis7"]["tickfont"] = dict(size=12, color="black")

RAX = dict(showline=True, linecolor="black", linewidth=1.6, ticks="outside", ticklen=5, tickwidth=1.3,
           tickcolor="black", showgrid=False, zeroline=False, side="right", automargin=False)
lay["yaxis8"] = dict(overlaying="y", anchor="x", range=[0, 50], tickvals=[0, 20, 40],
                     tickfont=dict(size=12.5, color="black"), **RAX)
lay["yaxis9"] = dict(overlaying="y4", anchor="x4", range=[0, 10], tickvals=[0, 2.5, 5, 7.5, 10],
                     tickformat=".1f", tickfont=dict(size=12.5, color="black"), **RAX)
RAXG = dict(RAX); RAXG["tickcolor"] = "#007A00"
lay["yaxis10"] = dict(overlaying="y7", anchor="x7", range=[0, 200], tickvals=[0, 50, 100, 150, 200],
                      tickfont=dict(size=12.5, color="#007A00"), **RAXG)

# shapes: event lines and shaded intervals
shapes = []
for i in range(1, 8):
    xa = "x" if i == 1 else "x%d" % i
    ya = "y" if i == 1 else "y%d" % i
    for ed in EVENT_DAYS:
        t = D([ed])[0]
        shapes.append(dict(type="line", xref=xa, yref=ya + " domain", x0=t, x1=t, y0=0, y1=1,
                           line=dict(color="#6495ED", width=2.3), layer="above"))
shapes.append(dict(type="rect", xref="x2", yref="y2 domain", x0=D([28.9])[0], x1=D([37])[0], y0=0, y1=1,
                   fillcolor="rgba(40,40,210,0.30)", line=dict(width=0), layer="below"))
shapes.append(dict(type="rect", xref="x6", yref="y6 domain", x0=D([20.2])[0], x1=D([32.8])[0], y0=0, y1=1,
                   fillcolor="rgba(220,20,60,0.28)", line=dict(width=0), layer="below"))
lay["shapes"] = shapes

def px2paper(px):
    return (px - ML) / PW

ann = []
plabels = [("a", "VT"), ("b", "VT"), ("c", "VT"), ("d", "VLP"), ("e", "VLP"), ("f", "Deformation")]
for i, (l, t) in enumerate(plabels, start=1):
    xa = "x" if i == 1 else "x%d" % i
    ya = "y" if i == 1 else "y%d" % i
    ann.append(dict(xref=xa + " domain", yref=ya + " domain", x=0.006, y=1, xanchor="left", yanchor="top",
                    yshift=-3, showarrow=False, text="<b>%s</b>&nbsp;&nbsp;&nbsp;%s" % (l, t),
                    font=dict(size=13, color="black")))
leg = ("<b>g</b>&nbsp;&nbsp;Dike-VTs (<span style='color:#0000CD'>━</span>), "
       "Sagging-VTs (<span style='color:#DC143C'>━</span>), "
       "VLPs (<span style='color:#4B0082'>━</span>) & Deformation (<span style='color:#007A00'>━</span>)")
ann.append(dict(xref="x7 domain", yref="y7 domain", x=0.006, y=1, xanchor="left", yanchor="top", yshift=-3,
                showarrow=False, text=leg, font=dict(size=13, color="black")))

# y-axis titles
ytitles = [("Mw", 28, 86, "black", 13), ("Depth [km]", 18, 231, "black", 13), ("ts-tp [s]", 28, 375, "black", 13),
           ("Ms", 28, 519, "black", 13), ("Period [s]", 10, 662, "black", 13), ("Displ. [mm]", 10, 807, "black", 12),
           ("Norm.N.VT/VLP", 14, 951, "black", 13),
           ("Daily rate", 1031, 86, "black", 13), ("Daily rate", 1047, 519, "black", 13),
           ("Abs.Displ.[mm]", 1050, 951, "#007A00", 13)]
for txt, px, py, col, fs in ytitles:
    ann.append(dict(xref="paper", yref="paper", x=px2paper(px), y=(H - MB - py) / PH, xanchor="center",
                    yanchor="middle", textangle=-90, showarrow=False, text=txt,
                    font=dict(size=fs, color=col)))

# in-panel texts
ann.append(dict(xref="x2", yref="y2", x=D([32.5])[0], y=30.3, text="upward<br>migration", showarrow=False,
                font=dict(size=13, color="#1515CC"), xanchor="center", yanchor="middle"))
ann.append(dict(xref="x6", yref="y6", x=D([26.6])[0], y=-90, text="anomaly<br>onset", showarrow=False,
                font=dict(size=13, color="#DC143C"), xanchor="center", yanchor="middle"))
ann.append(dict(xref="x6", yref="y6", x=D([219])[0], y=127, text="East", showarrow=False,
                font=dict(size=13, color="#00008B"), xanchor="center", yanchor="middle"))
ann.append(dict(xref="x6", yref="y6", x=D([256.3])[0], y=38, text="North", showarrow=False,
                font=dict(size=13, color="#4169E1"), xanchor="center", yanchor="middle"))
ann.append(dict(xref="x6", yref="y6", x=D([292.6])[0], y=-50, text="Vertical", showarrow=False,
                font=dict(size=13, color="#191970"), xanchor="center", yanchor="middle"))
lay["annotations"] = ann

fig.update_layout(**lay)
fig.write_html("out.html")
